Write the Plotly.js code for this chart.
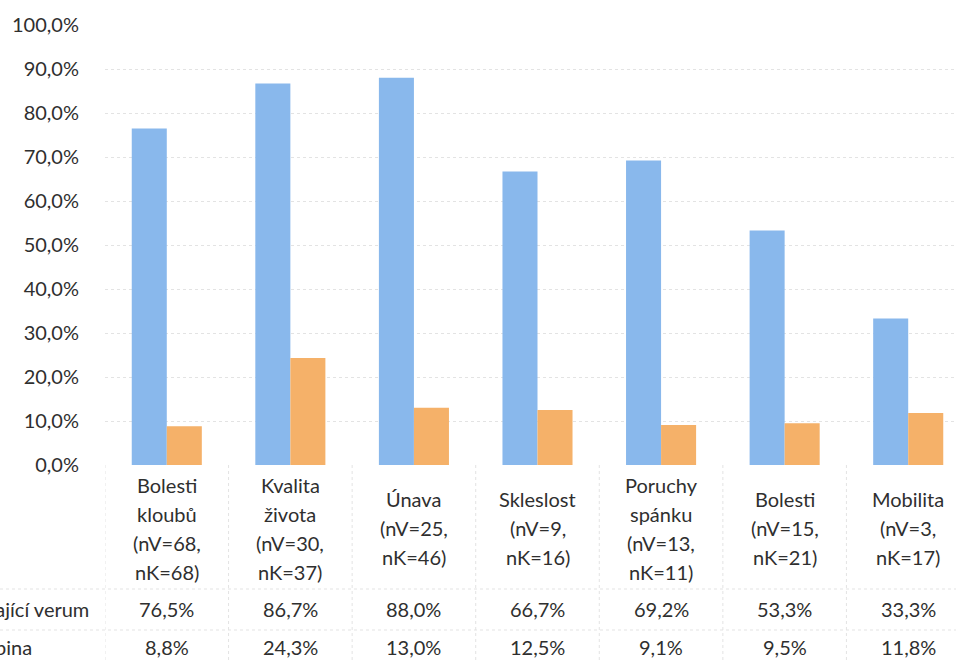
<!DOCTYPE html>
<html>
<head>
<meta charset="utf-8">
<script src="https://cdn.plot.ly/plotly-3.0.1.min.js"></script>
<style>
  html, body { margin: 0; padding: 0; overflow: hidden; background: #ffffff; }
  #chart { width: 970px; height: 660px; }
</style>
</head>
<body>
<div id="chart"></div>
<script>
// ---- data ----
const categoryLines = [
  ["Bolesti", "kloubů", "(nV=68,", "nK=68)"],
  ["Kvalita", "života", "(nV=30,", "nK=37)"],
  ["Únava", "(nV=25,", "nK=46)"],
  ["Skleslost", "(nV=9,", "nK=16)"],
  ["Poruchy", "spánku", "(nV=13,", "nK=11)"],
  ["Bolesti", "(nV=15,", "nK=21)"],
  ["Mobilita", "(nV=3,", "nK=17)"]
];
const seriesNames = ["Skupina užívající verum", "Kontrolní skupina"];
const verumValues = [76.5, 86.7, 88.0, 66.7, 69.2, 53.3, 33.3];
const kontrolaValues = [8.8, 24.3, 13.0, 12.5, 9.1, 9.5, 11.8];
const yTickValues = [0, 10, 20, 30, 40, 50, 60, 70, 80, 90, 100];
const yTickLabels = ["0,0%", "10,0%", "20,0%", "30,0%", "40,0%", "50,0%", "60,0%", "70,0%", "80,0%", "90,0%", "100,0%"];

// ---- styling / layout helpers ----
const categories = categoryLines.map(l => l.join(" "));
const blue = "#89b8ec";
const orange = "#f5b169";
const textColor = "#2f2f2f";
const fontFamily = "Lato, 'Open Sans', 'Noto Sans', sans-serif";
const H = 660, W = 970;
const mT = 25, mB = 195, mL = 105, mR = 0;
const plotH = H - mT - mB;
const plotW = W - mL - mR;
const pyToPaper = py => (H - mB - py) / plotH;
const pxToPaper = px => (px - mL) / plotW;
const fmt = v => v.toFixed(1).replace(".", ",") + "%";

const traces = [
  { type: "bar", name: seriesNames[0], x: categories, y: verumValues,
    marker: { color: blue }, hoverinfo: "skip" },
  { type: "bar", name: seriesNames[1], x: categories, y: kontrolaValues,
    marker: { color: orange }, hoverinfo: "skip" }
];

const annotations = [];
const labelCenter = 528, lineStep = 29;
categoryLines.forEach((lines, i) => {
  const n = lines.length;
  lines.forEach((t, j) => {
    const py = labelCenter + (j - (n - 1) / 2) * lineStep;
    annotations.push({ xref: "x", yref: "paper", x: categories[i], y: pyToPaper(py),
      text: t, showarrow: false, xanchor: "center", yanchor: "middle",
      font: { family: fontFamily, size: 20, color: textColor } });
  });
  annotations.push({ xref: "x", yref: "paper", x: categories[i], y: pyToPaper(609),
    text: fmt(verumValues[i]), showarrow: false, xanchor: "center", yanchor: "middle",
    font: { family: fontFamily, size: 20, color: textColor } });
  annotations.push({ xref: "x", yref: "paper", x: categories[i], y: pyToPaper(647),
    text: fmt(kontrolaValues[i]), showarrow: false, xanchor: "center", yanchor: "middle",
    font: { family: fontFamily, size: 20, color: textColor } });
});
annotations.push({ xref: "paper", yref: "paper", x: pxToPaper(91), y: pyToPaper(609),
  text: seriesNames[0], showarrow: false, xanchor: "right", yanchor: "middle",
  font: { family: fontFamily, size: 20, color: textColor } });
annotations.push({ xref: "paper", yref: "paper", x: pxToPaper(34), y: pyToPaper(647),
  text: seriesNames[1], showarrow: false, xanchor: "right", yanchor: "middle",
  font: { family: fontFamily, size: 20, color: textColor } });

const lineStyle = { color: "#e3e3e3", width: 1, dash: "dot" };
const shapes = [];
[589, 630].forEach(py => {
  shapes.push({ type: "line", xref: "paper", yref: "paper",
    x0: pxToPaper(0), x1: 1, y0: pyToPaper(py), y1: pyToPaper(py), line: lineStyle });
});
for (let k = 0; k <= categories.length; k++) {
  shapes.push({ type: "line", xref: "x", yref: "paper",
    x0: k - 0.5, x1: k - 0.5, y0: 0, y1: pyToPaper(H), line: lineStyle });
}

const layout = {
  width: W, height: H,
  margin: { t: mT, b: mB, l: mL, r: mR, pad: 0 },
  paper_bgcolor: "#ffffff", plot_bgcolor: "#ffffff",
  showlegend: false,
  barmode: "group", bargap: 0.433, bargroupgap: 0,
  font: { family: fontFamily, size: 20, color: textColor },
  xaxis: { type: "category", range: [-0.5, categories.length - 0.5],
    showticklabels: false, showgrid: false, zeroline: false, showline: false, fixedrange: true },
  yaxis: { range: [0, 100], tickmode: "array", tickvals: yTickValues, ticktext: yTickLabels,
    showgrid: true, gridcolor: "#e3e3e3", griddash: "dot", gridwidth: 1,
    zeroline: false, showline: false, ticks: "outside", ticklen: 21,
    tickcolor: "rgba(0,0,0,0)", tickfont: { family: fontFamily, size: 20, color: textColor },
    fixedrange: true },
  annotations: annotations,
  shapes: shapes
};

Plotly.newPlot("chart", traces, layout, { displayModeBar: false, staticPlot: true });
</script>
</body>
</html>
